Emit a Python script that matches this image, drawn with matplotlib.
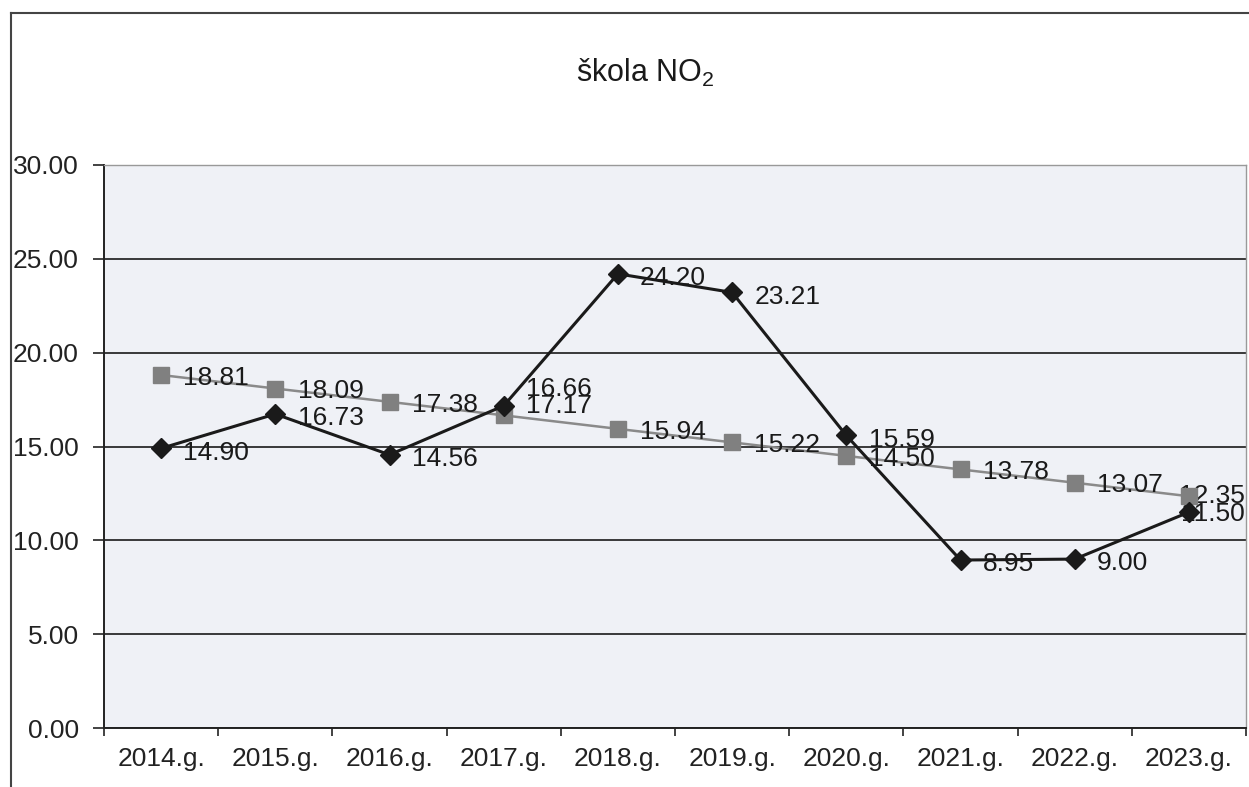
import matplotlib
matplotlib.use("Agg")
import matplotlib.pyplot as plt
from matplotlib.lines import Line2D

plt.rcParams['font.family'] = ['Liberation Sans', 'DejaVu Sans']
plt.rcParams['mathtext.fontset'] = 'custom'
plt.rcParams['mathtext.rm'] = 'Liberation Sans'

categories = ["2014.g.", "2015.g.", "2016.g.", "2017.g.", "2018.g.",
              "2019.g.", "2020.g.", "2021.g.", "2022.g.", "2023.g."]
measured = [14.90, 16.73, 14.56, 17.17, 24.20, 23.21, 15.59, 8.95, 9.00, 11.50]
trend = [18.81, 18.09, 17.38, 16.66, 15.94, 15.22, 14.50, 13.78, 13.07, 12.35]
y_ticks = [0, 5, 10, 15, 20, 25, 30]

W, H = 1249, 787
fig = plt.figure(figsize=(W / 100, H / 100), dpi=100)
fig.patch.set_facecolor('white')

left, right, top, bottom = 104, 1246, 165, 728
ax = fig.add_axes([left / W, 1 - bottom / H, (right - left) / W, (bottom - top) / H])
ax.set_facecolor('#eff1f6')

x = list(range(len(categories)))
ax.plot(x, trend, color='#8a8a8a', lw=1.8, marker='s', markersize=11,
        markerfacecolor='#808080', markeredgecolor='#808080', zorder=3)
ax.plot(x, measured, color='#1a1a1a', lw=2.2, marker='D', markersize=10,
        markerfacecolor='#1a1a1a', markeredgecolor='#1a1a1a', zorder=4)

n = len(categories)
for i, (xi, v) in enumerate(zip(x, trend)):
    if i == n - 1:
        ax.annotate(f"{v:.2f}", (xi, v), xytext=(40, 0), textcoords='offset points',
                    ha='right', va='center', fontsize=19, color='#1a1a1a', zorder=2)
        continue
    dy = 19 if i == 3 else -2
    ax.annotate(f"{v:.2f}", (xi, v), xytext=(16, dy), textcoords='offset points',
                ha='left', va='center', fontsize=19, color='#1a1a1a', zorder=5)
for i, (xi, v) in enumerate(zip(x, measured)):
    if i == n - 1:
        ax.annotate(f"{v:.2f}", (xi, v), xytext=(40, -1), textcoords='offset points',
                    ha='right', va='center', fontsize=19, color='#1a1a1a', zorder=2)
        continue
    dy = 0 if i == 3 else -3
    ax.annotate(f"{v:.2f}", (xi, v), xytext=(16, dy), textcoords='offset points',
                ha='left', va='center', fontsize=19, color='#1a1a1a', zorder=5)

ax.set_xlim(-0.5, n - 0.5)
ax.set_ylim(0, 30)
ax.set_yticks(y_ticks)
ax.set_yticklabels([f"{v:.2f}" for v in y_ticks], fontsize=19, color='#222222')
ax.set_xticks(x)
ax.set_xticklabels(categories, fontsize=19, color='#222222')
ax.set_xticks([i - 0.5 for i in range(n + 1)], minor=True)
ax.tick_params(axis='x', which='major', length=0, pad=14)
ax.tick_params(axis='x', which='minor', length=6, width=1.2, direction='out', color='#222222')
ax.tick_params(axis='y', which='major', length=8, width=1.2, direction='out', pad=10, color='#222222')

ax.grid(axis='y', color='#1a1a1a', lw=1.2, zorder=1)
ax.set_axisbelow(True)
for s in ['left', 'bottom']:
    ax.spines[s].set_color('#222222')
    ax.spines[s].set_linewidth(1.4)
for s in ['top', 'right']:
    ax.spines[s].set_color('#999999')
    ax.spines[s].set_linewidth(1.0)

fig.text(645 / W, 1 - 73 / H, 'škola NO$_2$', ha='center', va='center', fontsize=22, color='#1a1a1a')

# outer chart border
fig.add_artist(Line2D([11 / W, 11 / W], [0, 1 - 13 / H], transform=fig.transFigure, color='#444444', lw=1.5))
fig.add_artist(Line2D([11 / W, 1], [1 - 13 / H, 1 - 13 / H], transform=fig.transFigure, color='#444444', lw=1.5))

fig.savefig('out.png', dpi=100)
